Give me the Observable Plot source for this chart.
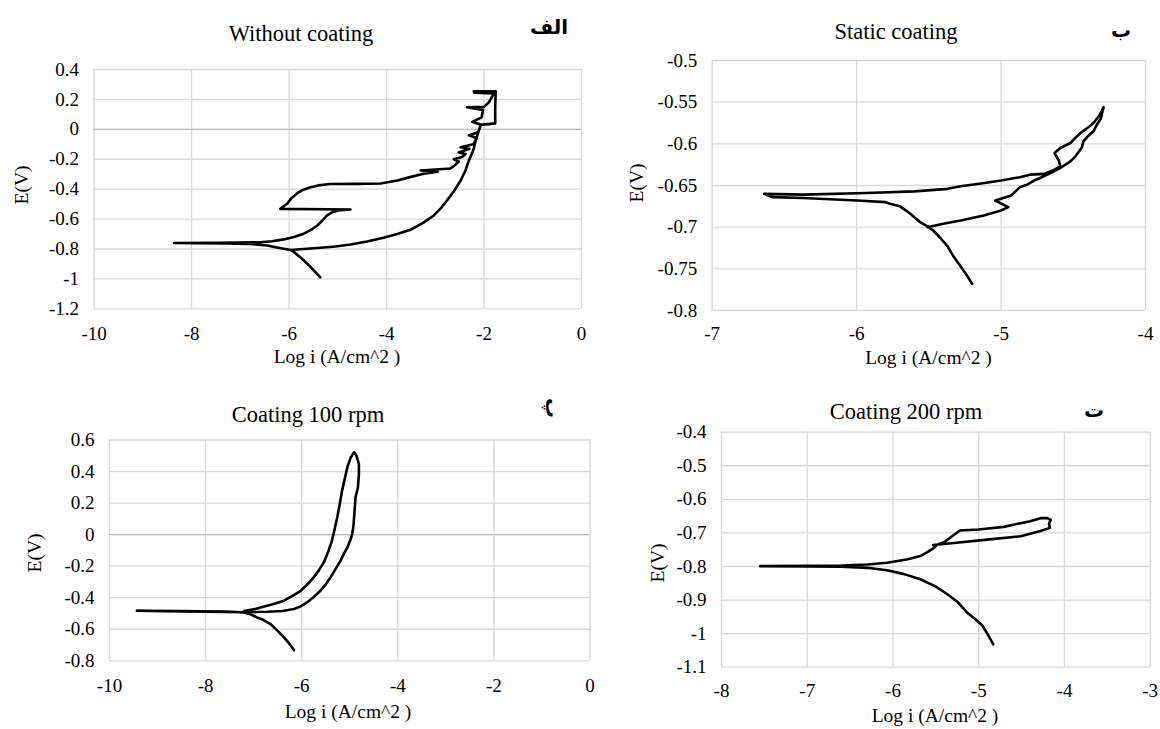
<!DOCTYPE html>
<html><head><meta charset="utf-8">
<script src="https://cdn.jsdelivr.net/npm/d3@7"></script>
<script src="https://cdn.jsdelivr.net/npm/@observablehq/plot@0.6"></script>
<style>
body{margin:0;background:#fff;}
#wrap{position:relative;width:1160px;height:729px;overflow:hidden;background:#fff;font-family:"Liberation Serif","Tinos","DejaVu Serif","Noto Serif",serif;color:#000;}
.t{position:absolute;white-space:nowrap;line-height:1;transform:translate(-50%,-50%);}
</style></head><body><div id="wrap"></div>
<script>
// ---------- data ----------
const titles = ["Without coating", "Static coating", "Coating 100 rpm", "Coating 200 rpm"];
const letters = ["الف", "ب", "پ", "ت"];
const xLabel = "Log i (A/cm^2 )";
const yLabel = "E(V)";

const xTicksA = [-10, -8, -6, -4, -2, 0];
const yTicksA = [-1.2, -1, -0.8, -0.6, -0.4, -0.2, 0, 0.2, 0.4];
const xTicksB = [-7, -6, -5, -4];
const yTicksB = [-0.8, -0.75, -0.7, -0.65, -0.6, -0.55, -0.5];
const xTicksC = [-10, -8, -6, -4, -2, 0];
const yTicksC = [-0.8, -0.6, -0.4, -0.2, 0, 0.2, 0.4, 0.6];
const xTicksD = [-8, -7, -6, -5, -4, -3];
const yTicksD = [-1.1, -1, -0.9, -0.8, -0.7, -0.6, -0.5, -0.4];

// Without coating
const logiA = [-5.36,-5.46,-5.56,-5.67,-5.77,-5.87,-5.97,-5.70,-5.42,-5.05,-4.74,-4.40,-4.06,-3.78,-3.51,-3.25,-3.03,-2.88,-2.76,-2.60,-2.48,-2.38,-2.31,-2.22,-2.17,-2.07,-1.77,-1.77,-1.76,
  -2.21,-2.20,-1.80,-1.90,-2.00,-2.35,-2.02,-2.05,-2.24,-2.06,-2.12,-2.31,-2.15,-2.22,-2.48,-2.30,-2.52,-2.38,-2.45,-2.62,-2.52,-2.60,-2.69,-3.30,-2.95,-3.24,-3.50,-3.78,-4.12,-4.60,-5.15,-5.40,-5.56,-5.72,-5.83,-5.95,-6.04,-6.18,-4.74,-4.95,-5.10,-5.22,-5.32,-5.42,-5.55,-5.70,-5.90,-6.11,-6.35,-6.59,-7.47,-8.36,-7.30,-6.80,-6.45,-6.25,-6.11,-5.97];
const eA = [-0.99,-0.955,-0.92,-0.885,-0.855,-0.828,-0.807,-0.800,-0.793,-0.783,-0.770,-0.750,-0.725,-0.700,-0.672,-0.625,-0.576,-0.525,-0.476,-0.405,-0.342,-0.275,-0.208,-0.14,-0.075,0.03,0.04,0.15,0.255,
  0.255,0.245,0.24,0.18,0.15,0.148,0.13,0.08,0.05,0.03,-0.02,-0.04,-0.06,-0.10,-0.12,-0.13,-0.155,-0.165,-0.185,-0.20,-0.215,-0.24,-0.262,-0.275,-0.283,-0.297,-0.318,-0.342,-0.362,-0.365,-0.366,-0.375,-0.387,-0.405,-0.427,-0.46,-0.498,-0.532,-0.536,-0.54,-0.552,-0.576,-0.61,-0.643,-0.672,-0.698,-0.72,-0.736,-0.748,-0.755,-0.758,-0.76,-0.763,-0.767,-0.777,-0.79,-0.799,-0.807];

// Static coating
const logiB = [-5.20,-5.24,-5.28,-5.33,-5.37,-5.42,-5.47,-5.51,-5.56,-5.60,-5.65,-5.70,-5.77,-5.80,-6.00,-6.37,-6.58,-6.64,
  -6.37,-5.93,-5.60,-5.37,-5.28,-5.15,-5.00,-4.87,-4.80,-4.70,-4.63,-4.59,-4.60,-4.63,-4.59,-4.52,-4.48,-4.45,-4.41,-4.38,-4.35,-4.32,-4.29,
  -4.30,-4.31,-4.34,-4.36,-4.40,-4.43,-4.44,-4.46,-4.49,-4.52,-4.59,-4.68,-4.73,-4.77,-4.82,-4.87,-4.90,-4.93,-5.04,-4.95,-5.00,-5.12,-5.20,-5.28,-5.40,-5.51];
const eB = [-0.768,-0.757,-0.747,-0.735,-0.723,-0.713,-0.704,-0.699,-0.694,-0.688,-0.681,-0.675,-0.672,-0.670,-0.668,-0.665,-0.664,-0.660,
  -0.661,-0.659,-0.657,-0.654,-0.651,-0.648,-0.644,-0.640,-0.637,-0.636,-0.631,-0.627,-0.620,-0.611,-0.605,-0.599,-0.592,-0.587,-0.582,-0.578,-0.573,-0.566,-0.556,
  -0.563,-0.570,-0.578,-0.585,-0.591,-0.597,-0.604,-0.609,-0.616,-0.621,-0.629,-0.637,-0.641,-0.644,-0.649,-0.652,-0.657,-0.662,-0.668,-0.676,-0.680,-0.686,-0.689,-0.692,-0.696,-0.700];

// Coating 100 rpm
const logiC = [-6.16,-6.26,-6.37,-6.50,-6.65,-6.80,-6.93,-7.05,-7.20,-7.60,-8.50,-9.43,-8.50,-7.60,-7.20,
  -6.72,-6.40,-6.16,-6.02,-5.89,-5.75,-5.61,-5.50,-5.40,-5.30,-5.19,-5.12,-5.05,-4.98,-4.95,-4.93,-4.92,-4.90,-4.88,-4.83,-4.81,-4.81,-4.86,-4.91,
  -4.98,-5.05,-5.10,-5.16,-5.21,-5.26,-5.31,-5.37,-5.45,-5.54,-5.64,-5.75,-5.88,-6.02,-6.20,-6.37,-6.55,-6.72,-6.95,-7.20];
const eC = [-0.732,-0.69,-0.652,-0.61,-0.567,-0.540,-0.525,-0.507,-0.493,-0.488,-0.485,-0.483,-0.487,-0.490,-0.492,
  -0.489,-0.484,-0.472,-0.455,-0.43,-0.395,-0.356,-0.315,-0.271,-0.22,-0.165,-0.12,-0.081,-0.03,0.004,0.04,0.067,0.15,0.236,0.30,0.38,0.448,0.50,0.522,
  0.49,0.427,0.36,0.279,0.19,0.11,0.04,-0.038,-0.11,-0.176,-0.225,-0.271,-0.315,-0.356,-0.39,-0.419,-0.437,-0.451,-0.47,-0.485];

// Coating 200 rpm
const logiD = [-4.83,-4.90,-4.96,-5.05,-5.14,-5.25,-5.37,-5.50,-5.68,-5.88,-6.07,-6.30,-6.60,-7.00,-7.55,-7.00,-6.60,-6.30,-6.07,-5.84,-5.68,-5.60,-5.53,-5.49,-5.40,-5.31,-5.22,
  -5.00,-4.71,-4.51,-4.40,-4.28,-4.20,-4.16,-4.18,-4.17,-4.28,-4.51,-4.90,-5.29,-5.53];
const eD = [-1.032,-1.00,-0.975,-0.955,-0.936,-0.905,-0.882,-0.860,-0.838,-0.822,-0.811,-0.804,-0.801,-0.800,-0.799,-0.798,-0.797,-0.794,-0.789,-0.779,-0.769,-0.757,-0.746,-0.736,-0.727,-0.71,-0.693,
  -0.690,-0.682,-0.671,-0.665,-0.656,-0.656,-0.661,-0.672,-0.685,-0.694,-0.710,-0.720,-0.730,-0.736];

// ---------- layout ----------
const W = 1160, H = 729;
const FONT = "'Liberation Serif','Tinos','DejaVu Serif','Noto Serif',serif";
const panels = [
  {x: logiA, y: eA, xt: xTicksA, yt: yTicksA, box: [93.6, 581, 69, 308.3], xpad: 18, zero: true,
   title: [301, 33.5], letter: [549, 27, 0], ylab: [22, 185], xlab: [337, 357]},
  {x: logiB, y: eB, xt: xTicksB, yt: yTicksB, box: [711.7, 1145, 60, 310], xpad: 16, zero: false,
   title: [896, 31.5], letter: [1121, 30, 0], ylab: [637, 183], xlab: [928.5, 358]},
  {x: logiC, y: eC, xt: xTicksC, yt: yTicksC, box: [109, 589.5, 439.5, 660.3], xpad: 18, zero: true,
   title: [308, 415], letter: [553, 408, 90], ylab: [35, 553], xlab: [348, 712]},
  {x: logiD, y: eD, xt: xTicksD, yt: yTicksD, box: [721, 1149.7, 431.7, 666.7], xpad: 16, zero: false,
   title: [906, 411.5], letter: [1094, 410, 0], ylab: [658, 563], xlab: [935, 716]}
];

const fmt = d => { const v = Math.round(d * 100) / 100; return Object.is(v, -0) ? "0" : String(v); };
const wrap = document.getElementById("wrap");

function addText(txt, cx, cy, size, extra) {
  const el = document.createElement("div");
  el.className = "t";
  el.textContent = txt;
  el.style.left = cx + "px";
  el.style.top = cy + "px";
  el.style.fontSize = size + "px";
  if (extra) Object.assign(el.style, extra);
  wrap.appendChild(el);
  return el;
}

panels.forEach((p, i) => {
  const data = p.x.map((x, k) => ({x, y: p.y[k]}));
  const [l, r, t, b] = p.box;
  const xd = [p.xt[0], p.xt[p.xt.length - 1]];
  const yd = [p.yt[0], p.yt[p.yt.length - 1]];
  const marks = [
    Plot.gridX(p.xt, {stroke: "#d9d9d9", strokeOpacity: 1, strokeWidth: 1.3}),
    Plot.gridY(p.yt, {stroke: "#d9d9d9", strokeOpacity: 1, strokeWidth: 1.3}),
  ];
  if (p.zero) marks.push(Plot.ruleY([0], {stroke: "#bfbfbf", strokeWidth: 1.3}));
  marks.push(
    Plot.axisX(p.xt, {tickSize: 0, tickPadding: p.xpad, tickFormat: fmt, label: null, fontSize: 19, fontFamily: FONT, fill: "#000"}),
    Plot.axisY(p.yt, {tickSize: 0, tickPadding: 15, tickFormat: fmt, label: null, fontSize: 19, fontFamily: FONT, fill: "#000"}),
    Plot.line(data, {x: "x", y: "y", stroke: "#000", strokeWidth: 2.6, strokeLinejoin: "round", strokeLinecap: "round"})
  );
  const svg = Plot.plot({
    width: W, height: H,
    marginLeft: l, marginRight: W - r, marginTop: t, marginBottom: H - b,
    x: {domain: xd, label: null},
    y: {domain: yd, label: null},
    style: {background: "transparent", overflow: "visible", position: "absolute", left: "0px", top: "0px",
            fontFamily: FONT, fontSize: "19px", color: "#000"},
    marks
  });
  wrap.appendChild(svg);

  addText(titles[i], p.title[0], p.title[1], 22.5);
  addText(letters[i], p.letter[0], p.letter[1], 20, {
    fontFamily: "'DejaVu Sans', sans-serif", fontWeight: "bold", direction: "rtl",
    transform: "translate(-50%,-50%) rotate(" + p.letter[2] + "deg)"
  });
  addText(yLabel, p.ylab[0], p.ylab[1], 19.5, {transform: "translate(-50%,-50%) rotate(-90deg)"});
  addText(xLabel, p.xlab[0], p.xlab[1], 19.5);
});
</script>
</body></html>
